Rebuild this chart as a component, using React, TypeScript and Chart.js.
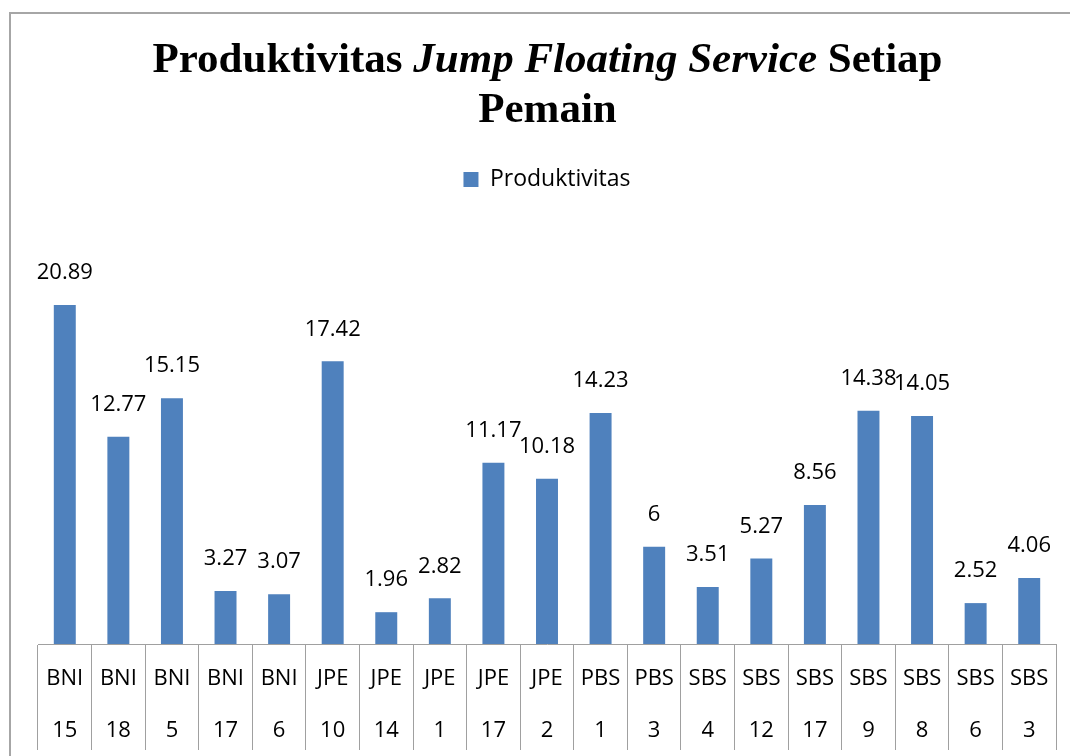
import React, { useEffect, useRef } from "react";
import { Chart, registerables } from "chart.js";

Chart.register(...registerables);

const groups = ["BNI", "BNI", "BNI", "BNI", "BNI", "JPE", "JPE", "JPE", "JPE", "JPE", "PBS", "PBS", "SBS", "SBS", "SBS", "SBS", "SBS", "SBS", "SBS"];
const players = ["15", "18", "5", "17", "6", "10", "14", "1", "17", "2", "1", "3", "4", "12", "17", "9", "8", "6", "3"];
const produktivitas = [20.89, 12.77, 15.15, 3.27, 3.07, 17.42, 1.96, 2.82, 11.17, 10.18, 14.23, 6, 3.51, 5.27, 8.56, 14.38, 14.05, 2.52, 4.06];
const seriesName = "Produktivitas";

const FONT = "'Open Sans'";

const valueLabels = {
  id: "valueLabels",
  afterDatasetsDraw(chart: any) {
    const ctx = chart.ctx;
    const meta = chart.getDatasetMeta(0);
    const data = chart.data.datasets[0].data;
    ctx.save();
    ctx.font = "22px " + FONT;
    ctx.fillStyle = "#000";
    ctx.textAlign = "center";
    ctx.textBaseline = "middle";
    meta.data.forEach((bar: any, i: number) => {
      ctx.fillText(String(data[i]), bar.x, bar.y - 32);
    });
    ctx.restore();
  },
};

const categoryLabels = {
  id: "categoryLabels",
  afterDraw(chart: any) {
    const ctx = chart.ctx;
    const xs = chart.scales.x;
    const labels = chart.data.labels as string[][];
    ctx.save();
    ctx.font = "22px " + FONT;
    ctx.fillStyle = "#000";
    ctx.textAlign = "center";
    ctx.textBaseline = "middle";
    labels.forEach((lines, i) => {
      const x = xs.getPixelForValue(i);
      lines.forEach((line, j) => {
        ctx.fillText(line, x, xs.top + 35 + j * 52);
      });
    });
    ctx.restore();
  },
};

export default function App() {
  const canvasRef = useRef<HTMLCanvasElement | null>(null);
  useEffect(() => {
    if (!canvasRef.current) return;
    const labels = groups.map((g, i) => [g, players[i]]);
    const chart = new Chart(canvasRef.current, {
      type: "bar",
      data: {
        labels,
        datasets: [
          {
            label: seriesName,
            data: produktivitas,
            backgroundColor: "#4f81bd",
            borderWidth: 0,
            barPercentage: 0.41,
            categoryPercentage: 1,
          },
        ],
      },
      options: {
        animation: false,
        responsive: false,
        maintainAspectRatio: false,
        layout: { padding: { top: 150, left: 30, right: 22, bottom: 6 } },
        plugins: {
          title: { display: false },
          tooltip: { enabled: false },
          legend: {
            display: true,
            position: "top",
            labels: {
              font: { family: "Open Sans", size: 23 },
              color: "#000",
              boxWidth: 15,
              boxHeight: 15,
              padding: 10,
            },
          },
        },
        scales: {
          x: {
            grid: {
              display: true,
              offset: true,
              drawOnChartArea: false,
              drawTicks: true,
              tickLength: 106,
              color: "#a0a0a0",
              lineWidth: 1,
            },
            border: { display: true, color: "#a0a0a0", width: 1 },
            ticks: { display: false },
          },
          y: {
            display: false,
            min: 0,
            max: 27.3,
          },
        },
      },
      plugins: [valueLabels, categoryLabels],
    });
    return () => chart.destroy();
  }, []);

  return (
    <div style={{ position: "relative", width: 1070, height: 748, overflow: "hidden" }}>
      <div
        style={{
          position: "absolute",
          left: 1,
          top: 4,
          right: 0,
          bottom: 0,
          borderTop: "2px solid #a6a6a6",
          borderLeft: "2px solid #a6a6a6",
          boxSizing: "border-box",
        }}
      />
      <canvas ref={canvasRef} width={1070} height={748} style={{ position: "absolute", left: 0, top: 0 }} />
      <div
        style={{
          position: "absolute",
          left: 9,
          right: 0,
          top: 25,
          textAlign: "center",
          fontFamily: "'Liberation Serif', 'Times New Roman', serif",
          fontWeight: "bold",
          fontSize: 43,
          lineHeight: "50px",
          color: "#000",
        }}
      >
        <div>
          Produktivitas <i>Jump Floating Service</i> Setiap
        </div>
        <div>Pemain</div>
      </div>
    </div>
  );
}
